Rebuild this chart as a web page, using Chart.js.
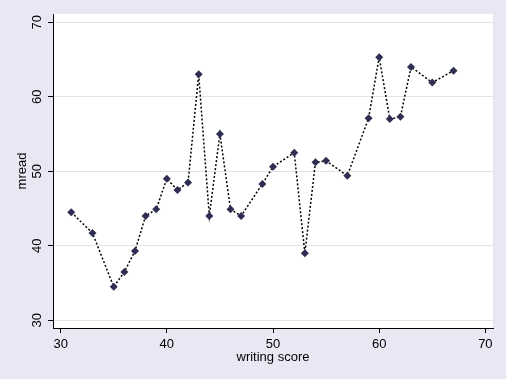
<!DOCTYPE html>
<html>
<head>
<meta charset="utf-8">
<script src="https://cdn.jsdelivr.net/npm/chart.js@4/dist/chart.umd.min.js"></script>
<style>
  html, body { margin: 0; padding: 0; background: #E8E8F4; }
  #wrap { width: 506px; height: 379px; }
</style>
</head>
<body>
<div id="wrap"><canvas id="c" width="506" height="379"></canvas></div>
<script>
const writingScore = [31, 33, 35, 36, 37, 38, 39, 40, 41, 42, 43, 44, 45, 46, 47, 49, 50, 52, 53, 54, 55, 57, 59, 60, 61, 62, 63, 65, 67];
const mread = [44.5, 41.7, 34.5, 36.5, 39.3, 44.0, 44.9, 49.0, 47.5, 48.5, 63.0, 44.0, 55.0, 44.9, 44.0, 48.3, 50.6, 52.5, 39.0, 51.2, 51.4, 49.4, 57.1, 65.3, 57.0, 57.3, 64.0, 61.9, 63.5];
const xTicks = [30, 40, 50, 60, 70];
const yTicks = [30, 40, 50, 60, 70];
const xTitle = 'writing score';
const yTitle = 'mread';

const FONT = '"Liberation Sans", Arial, sans-serif';

const points = writingScore.map((x, i) => ({ x: x, y: mread[i] }));

const bgPlugin = {
  id: 'bg',
  beforeDraw(chart) {
    const { ctx, chartArea: a } = chart;
    ctx.save();
    ctx.fillStyle = '#E8E8F4';
    ctx.fillRect(0, 0, chart.width, chart.height);
    ctx.fillStyle = '#FFFFFF';
    ctx.fillRect(a.left, a.top, a.right - a.left, a.bottom - a.top);
    ctx.restore();
  },
  afterDraw(chart) {
    const { ctx, chartArea: a } = chart;
    const ys = chart.scales.y;
    ctx.save();
    ctx.fillStyle = '#000000';
    ctx.font = '13px ' + FONT;
    ctx.textAlign = 'center';
    ctx.textBaseline = 'middle';
    yTicks.forEach(v => {
      const py = ys.getPixelForValue(v);
      ctx.save();
      ctx.translate(37, py);
      ctx.rotate(-Math.PI / 2);
      ctx.fillText(String(v), 0, 0);
      ctx.restore();
    });
    ctx.save();
    ctx.translate(22, (a.top + a.bottom) / 2);
    ctx.rotate(-Math.PI / 2);
    ctx.fillText(yTitle, 0, 0);
    ctx.restore();
    ctx.fillText(xTitle, (a.left + a.right) / 2, 357);
    ctx.restore();
  }
};

new Chart(document.getElementById('c'), {
  type: 'scatter',
  data: {
    datasets: [{
      data: points,
      showLine: true,
      borderColor: '#000000',
      borderWidth: 1.5,
      borderDash: [2, 2],
      pointStyle: 'rectRot',
      pointRadius: 4,
      pointBackgroundColor: '#2E2E52',
      pointBorderColor: '#2E2E52',
      pointBorderWidth: 0
    }]
  },
  options: {
    responsive: false,
    animation: false,
    events: [],
    layout: { padding: { left: 0, top: 14, right: 13, bottom: 0 } },
    plugins: { legend: { display: false }, tooltip: { enabled: false } },
    scales: {
      x: {
        type: 'linear',
        min: 29.28,
        max: 70.72,
        afterBuildTicks: s => { s.ticks = xTicks.map(v => ({ value: v })); },
        afterFit: s => { s.height = 51; },
        grid: { display: true, drawOnChartArea: false, tickLength: 5, tickColor: '#000000', tickWidth: 1 },
        border: { color: '#000000', width: 1 },
        ticks: { color: '#000000', font: { family: FONT, size: 13 }, padding: 4, maxRotation: 0, minRotation: 0 }
      },
      y: {
        type: 'linear',
        min: 28.97,
        max: 71.1,
        afterBuildTicks: s => { s.ticks = yTicks.map(v => ({ value: v })); },
        afterFit: s => { s.width = 53; },
        grid: { display: true, color: '#E4E4E4', lineWidth: 1, tickLength: 5, tickColor: '#000000', tickWidth: 1 },
        border: { color: '#000000', width: 1 },
        ticks: { display: false }
      }
    }
  },
  plugins: [bgPlugin]
});
</script>
</body>
</html>
